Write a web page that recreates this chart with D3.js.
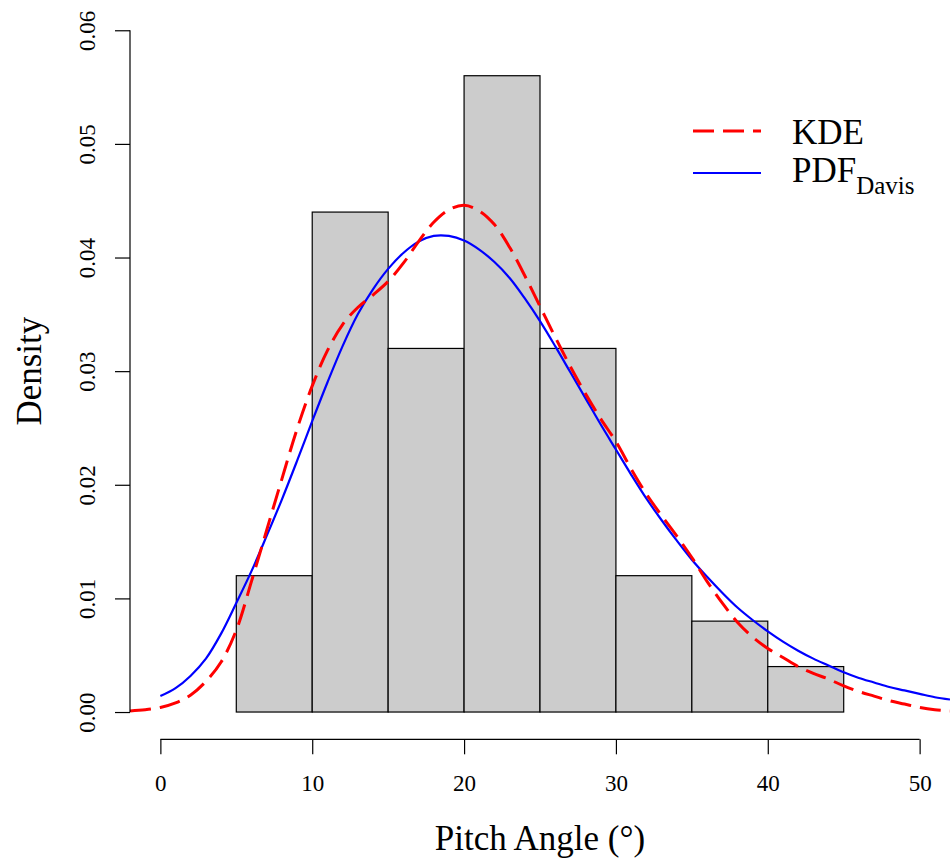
<!DOCTYPE html>
<meta charset="utf-8">

<!-- Load d3.js -->
<script src="https://d3js.org/d3.v7.min.js"></script>

<style>
  body { margin: 0; background: #fff; }
  text { font-family: "Liberation Serif", "Times New Roman", serif; fill: #000; }
</style>

<!-- Create a div where the graph will take place -->
<div id="my_dataviz"></div>

<script>
    // histogram bins (pitch angle, degrees) and their densities
    var binStart = [5, 10, 15, 20, 25, 30, 35, 40]
    var binEnd = [10, 15, 20, 25, 30, 35, 40, 45]
    var binDensity = [0.012, 0.044, 0.032, 0.056, 0.032, 0.012, 0.008, 0.004]

    // kernel density estimate
    var kdeX = [-2, -1, 0, 1, 2, 3, 4, 5, 6, 7, 8, 9, 10, 11, 12, 13, 14, 15, 16, 17, 18, 19, 20, 21, 22, 23, 24, 25,
        26, 27, 28, 29, 30, 31, 32, 33, 34, 35, 36, 37, 38, 39, 40, 41, 42, 43, 44, 45, 46, 47, 48, 49, 50, 51, 52]
    var kdeY = [0.0001, 0.0002, 0.0004, 0.0008, 0.0015, 0.0027, 0.0044, 0.0072, 0.0115, 0.0160, 0.0205, 0.0249, 0.0287,
        0.0318, 0.0341, 0.0356, 0.0367, 0.0379, 0.0395, 0.0414, 0.0431, 0.0442, 0.0446, 0.0441, 0.0429, 0.0409, 0.0384,
        0.0357, 0.0330, 0.0304, 0.0280, 0.0258, 0.0238, 0.0214, 0.0192, 0.0173, 0.0155, 0.0136, 0.0115, 0.0096, 0.0079,
        0.0066, 0.0056, 0.0048, 0.0040, 0.0034, 0.0029, 0.0023, 0.0018, 0.0014, 0.0010, 0.0007, 0.0004, 0.0002, 0.0001]

    // fitted Davis pdf
    var pdfX = [0, 1, 2, 3, 4, 5, 6, 7, 8, 9, 10, 11, 12, 13, 14, 15, 16, 17, 18, 19, 20, 21, 22, 23, 24, 25,
        26, 27, 28, 29, 30, 31, 32, 33, 34, 35, 36, 37, 38, 39, 40, 41, 42, 43, 44, 45, 46, 47, 48, 49, 50, 51, 52]
    var pdfY = [0.0014, 0.0021, 0.0032, 0.0047, 0.0069, 0.0096, 0.0124, 0.0155, 0.0187, 0.0221, 0.0256, 0.0290, 0.0322,
        0.0350, 0.0372, 0.0390, 0.0404, 0.0414, 0.0419, 0.0419, 0.0415, 0.0407, 0.0396, 0.0382, 0.0364, 0.0344,
        0.0322, 0.0299, 0.0276, 0.0253, 0.0231, 0.0209, 0.0188, 0.0169, 0.0151, 0.0134, 0.0119, 0.0105, 0.0092, 0.0081,
        0.0071, 0.0062, 0.0054, 0.0047, 0.0041, 0.0035, 0.0030, 0.0026, 0.0022, 0.0019, 0.0016, 0.0013, 0.0011]

    // axis ticks
    var xTicks = [0, 10, 20, 30, 40, 50]
    var yTicks = [0, 0.01, 0.02, 0.03, 0.04, 0.05, 0.06]

    var width = 951
    var height = 859

    var svg = d3.select("#my_dataviz")
        .append("svg")
        .attr("width", width)
        .attr("height", height)

    // plot region like R: limits padded by 4%
    var x = d3.scaleLinear().domain([-2, 52]).range([130, 950])
    var y = d3.scaleLinear().domain([-0.0024, 0.0624]).range([739.3, 3])

    svg.append("clipPath").attr("id", "plotclip")
        .append("rect")
        .attr("x", x(-2)).attr("y", y(0.0624))
        .attr("width", x(52) - x(-2)).attr("height", y(-0.0024) - y(0.0624))

    // histogram bars
    svg.selectAll("rect.bar")
        .data(binDensity)
        .enter()
        .append("rect")
        .attr("class", "bar")
        .attr("x", function(d, i) { return x(binStart[i]) })
        .attr("width", function(d, i) { return x(binEnd[i]) - x(binStart[i]) })
        .attr("y", function(d) { return y(d) })
        .attr("height", function(d) { return y(0) - y(d) })
        .attr("fill", "#cccccc")
        .attr("stroke", "black")
        .attr("stroke-width", 1.2)

    var line = d3.line()
        .x(function(d) { return x(d[0]) })
        .y(function(d) { return y(d[1]) })
        .curve(d3.curveCatmullRom)

    var kde = kdeX.map(function(v, i) { return [v, kdeY[i]] })
    var pdf = pdfX.map(function(v, i) { return [v, pdfY[i]] })

    svg.append("path")
        .attr("clip-path", "url(#plotclip)")
        .attr("d", line(pdf))
        .attr("fill", "none")
        .attr("stroke", "#0000ff")
        .attr("stroke-width", 2.2)

    svg.append("path")
        .attr("clip-path", "url(#plotclip)")
        .attr("d", line(kde))
        .attr("fill", "none")
        .attr("stroke", "#ff0000")
        .attr("stroke-width", 3)
        .attr("stroke-dasharray", "21,9")

    // x axis
    var xAxis = svg.append("g")
        .attr("transform", "translate(0," + y(-0.0024) + ")")
        .call(d3.axisBottom(x).tickValues(xTicks).tickSize(15).tickFormat(d3.format("d")))
    xAxis.select(".domain").remove()
    xAxis.append("line")
        .attr("x1", x(xTicks[0])).attr("x2", x(xTicks[xTicks.length - 1]))
        .attr("stroke", "black").attr("stroke-width", 1.2)
    xAxis.selectAll(".tick line").attr("stroke-width", 1.2)
    xAxis.selectAll(".tick text")
        .attr("y", 52).attr("dy", 0)
        .style("font-size", "23px")
        .style("font-family", "Liberation Serif")

    // y axis
    var yAxis = svg.append("g")
        .attr("transform", "translate(" + x(-2) + ",0)")
        .call(d3.axisLeft(y).tickValues(yTicks).tickSize(15).tickFormat(d3.format(".2f")))
    yAxis.select(".domain").remove()
    yAxis.append("line")
        .attr("y1", y(yTicks[0])).attr("y2", y(yTicks[yTicks.length - 1]))
        .attr("stroke", "black").attr("stroke-width", 1.2)
    yAxis.selectAll(".tick line").attr("stroke-width", 1.2)
    yAxis.selectAll(".tick text")
        .attr("x", null).attr("dy", null)
        .attr("transform", "translate(-35,0) rotate(-90)")
        .attr("text-anchor", "middle")
        .style("font-size", "23px")
        .style("font-family", "Liberation Serif")

    // axis titles
    svg.append("text")
        .attr("x", (x(-2) + x(52)) / 2)
        .attr("y", 850)
        .attr("text-anchor", "middle")
        .style("font-size", "35px")
        .text("Pitch Angle (°)")

    svg.append("text")
        .attr("transform", "translate(41," + (y(-0.0024) + y(0.0624)) / 2 + ") rotate(-90)")
        .attr("text-anchor", "middle")
        .style("font-size", "35px")
        .text("Density")

    // legend
    var legend = svg.append("g")
    legend.append("line")
        .attr("x1", 693).attr("x2", 761).attr("y1", 131).attr("y2", 131)
        .attr("stroke", "#ff0000").attr("stroke-width", 3).attr("stroke-dasharray", "21,9")
    legend.append("line")
        .attr("x1", 693).attr("x2", 761).attr("y1", 173).attr("y2", 173)
        .attr("stroke", "#0000ff").attr("stroke-width", 2.2)
    legend.append("text")
        .attr("x", 792).attr("y", 144)
        .style("font-size", "35px")
        .text("KDE")
    var pdfLabel = legend.append("text")
        .attr("x", 792).attr("y", 182)
        .style("font-size", "35px")
    pdfLabel.append("tspan").text("PDF")
    pdfLabel.append("tspan")
        .attr("dy", 12)
        .style("font-size", "25px")
        .text("Davis")
</script>
